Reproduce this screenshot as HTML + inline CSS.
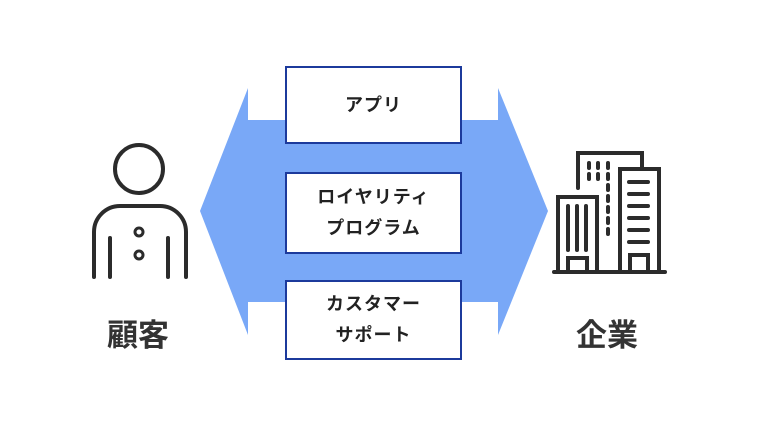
<!DOCTYPE html>
<html><head><meta charset="utf-8"><style>
body{margin:0;background:#fff;width:758px;height:426px;overflow:hidden;font-family:"Liberation Sans","Noto Sans CJK JP",sans-serif}
.b{position:absolute;left:285px;width:173px;border:2px solid #1c3a9c;background:#fff;display:flex;align-items:center;justify-content:center;text-align:center;font-weight:bold;font-size:18px;color:#222;line-height:31px;letter-spacing:1px}
.l{position:absolute;font-weight:bold;font-size:31px;color:#333;line-height:36px}
</style></head><body>
<svg width="758" height="426" style="position:absolute;left:0;top:0">
<polygon points="200,211 248,88 248,120 498,120 498,88 548,211 498,335 498,302 248,302 248,335" fill="#79a8f7"/>
<g fill="none" stroke="#2b2b2b" stroke-width="4" stroke-linecap="round">
<circle cx="139" cy="169" r="24"/>
<path d="M94,277 V232 A26,26 0 0 1 120,206 H160 A26,26 0 0 1 186,232 V277"/>
<line x1="110" y1="238" x2="110" y2="277"/><line x1="168" y1="238" x2="168" y2="277"/>
<circle cx="139" cy="232" r="4" stroke-width="3"/><circle cx="139" cy="255" r="4" stroke-width="3"/>
<line x1="554" y1="272" x2="665" y2="272"/>
<path d="M578,188 V153 H642 V168"/>
<rect x="558" y="197" width="39" height="75"/>
<rect x="620" y="169" width="39" height="103"/>
<line x1="568" y1="206" x2="568" y2="250"/><line x1="577" y1="206" x2="577" y2="250"/><line x1="586" y1="206" x2="586" y2="250"/>
<path d="M568,272 V258 H587 V272"/><path d="M630,272 V255 H648 V272"/>
<line x1="629" y1="182" x2="648" y2="182"/><line x1="629" y1="194" x2="648" y2="194"/><line x1="629" y1="206" x2="648" y2="206"/><line x1="629" y1="218" x2="648" y2="218"/><line x1="629" y1="230" x2="648" y2="230"/><line x1="629" y1="242" x2="648" y2="242"/>
<g stroke-dasharray="5,6"><line x1="589" y1="163" x2="589" y2="182"/><line x1="598" y1="163" x2="598" y2="182"/><line x1="608" y1="163" x2="608" y2="240"/></g>
</g></svg>
<div class="b" style="top:66px;height:74px">アプリ</div>
<div class="b" style="top:172px;height:78px">ロイヤリティ<br>プログラム</div>
<div class="b" style="top:280px;height:76px">カスタマー<br>サポート</div>
<div class="l" style="left:107px;top:318px">顧客</div>
<div class="l" style="left:576px;top:318px">企業</div>
</body></html>
